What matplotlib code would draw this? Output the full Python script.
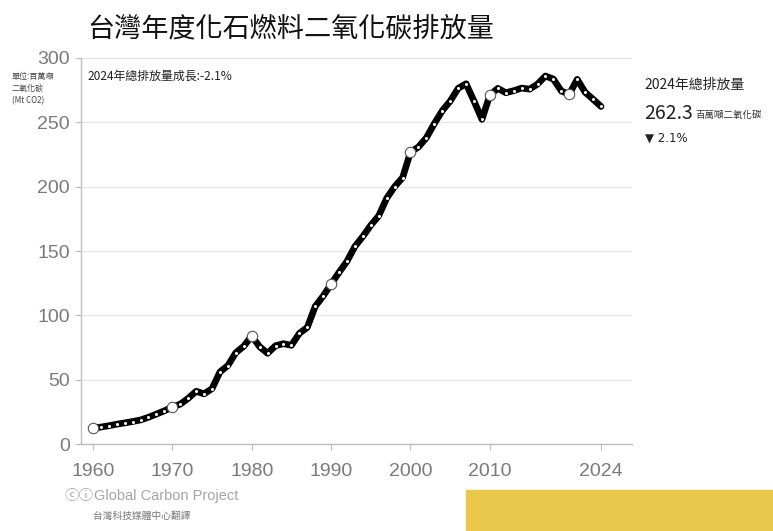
import matplotlib

matplotlib.use("Agg")

import matplotlib.pyplot as plt
from matplotlib.patches import Rectangle

plt.rcParams["font.family"] = ["Noto Sans CJK TC", "DejaVu Sans"]

# annual fossil CO2 emissions, Taiwan (Mt CO2)
years = list(range(1960, 2025))
emissions = [
    12.2, 13.2, 14.2, 15.4, 16.4, 17.5, 18.7, 20.8, 23.3, 25.8,   # 1960s
    28.7, 31.0, 35.5, 41.0, 39.0, 43.0, 56.0, 61.0, 71.0, 76.0,   # 1970s
    84.0, 75.6, 70.5, 76.4, 78.0, 76.7, 86.0, 90.6, 107.0, 115.0,  # 1980s
    124.3, 133.4, 142.0, 153.6, 161.3, 170.0, 177.4, 191.0, 200.0, 207.0,  # 1990s
    226.8, 230.8, 238.0, 249.0, 259.0, 266.5, 276.4, 280.0, 266.5, 252.3,  # 2000s
    271.2, 276.4, 273.0, 274.6, 276.6, 275.8, 279.7, 286.0, 283.6, 274.3,  # 2010s
    271.9, 283.4, 273.3, 267.9, 262.3,                            # 2020-2024
]
highlight_years = [1960, 1970, 1980, 1990, 2000, 2010, 2020]
xtick_years = [1960, 1970, 1980, 1990, 2000, 2010, 2024]
yticks = [0, 50, 100, 150, 200, 250, 300]

GREY = "#7a7a7a"

fig = plt.figure(figsize=(7.73, 5.31), dpi=100)
ax = fig.add_axes([0.1048, 0.1638, 0.7128, 0.727])

ax.plot(years, emissions, color="black", lw=4.8, solid_capstyle="round",
        solid_joinstyle="round", zorder=3)
ax.plot(years, emissions, ls="none", marker="o", ms=2.2, mfc="white",
        mec="none", zorder=4)
hl_vals = [emissions[years.index(y)] for y in highlight_years]
ax.plot(highlight_years, hl_vals, ls="none", marker="o", ms=7.5, mfc="white",
        mec="#555555", mew=0.8, zorder=5)

ax.set_xlim(1958.5, 2027.9)
ax.set_ylim(0, 300)
ax.set_xticks(xtick_years)
ax.set_yticks(yticks)
ax.tick_params(axis="both", colors="#bbbbbb", labelcolor=GREY, length=4,
               width=0.8)
ax.tick_params(axis="x", pad=10)
ax.tick_params(axis="y", pad=4)
for lab in ax.get_xticklabels() + ax.get_yticklabels():
    lab.set_fontfamily("Liberation Sans")
    lab.set_fontsize(14)
ax.yaxis.grid(True, color="#e6e6e6", lw=0.9)
ax.set_axisbelow(True)
for side in ("top", "right"):
    ax.spines[side].set_visible(False)
for side in ("left", "bottom"):
    ax.spines[side].set_color("#bdbdbd")
    ax.spines[side].set_linewidth(1.0)

fig.text(0.1125, 0.945, "台灣年度化石燃料二氧化碳排放量", fontsize=19.5,
         color="#111111", va="center", ha="left")

ax.text(0.012, 0.97, "2024年總排放量成長:-2.1%", transform=ax.transAxes,
        fontsize=8.6, color="#222222", va="top", ha="left")

fig.text(0.015, 0.865, "單位:百萬噸\n二氧化碳\n(Mt CO2)", fontsize=5.8,
         color="#444444", va="top", ha="left", linespacing=1.45)

# summary on the right
fig.text(0.834, 0.841, "2024年總排放量", fontsize=10, color="#222222",
         va="center", ha="left")
fig.text(0.834, 0.787, "262.3", fontsize=14, color="#222222", va="center",
         ha="left")
fig.text(0.899, 0.782, "百萬噸二氧化碳", fontsize=6.8, color="#333333",
         va="center", ha="left")
fig.text(0.834, 0.741, "▼ 2.1%", fontsize=8.5, color="#222222", va="center",
         ha="left", family=["DejaVu Sans"])

# source footer
fig.text(0.084, 0.066, "ⓒⓘ", fontsize=10.5, color="#a5a5a5", va="center",
         ha="left", family=["Noto Sans CJK TC", "DejaVu Sans"])
fig.text(0.122, 0.066, "Global Carbon Project", fontsize=10.5,
         color="#a5a5a5", va="center", ha="left",
         family=["Liberation Sans", "DejaVu Sans"])
fig.text(0.120, 0.028, "台灣科技媒體中心翻譯", fontsize=7, color="#777777",
         va="center", ha="left")

fig.patches.append(Rectangle((466 / 773, 0), 1 - 466 / 773, 41 / 531,
                             transform=fig.transFigure, color="#e9c84b",
                             zorder=0))

fig.savefig("out.png", dpi=100)
